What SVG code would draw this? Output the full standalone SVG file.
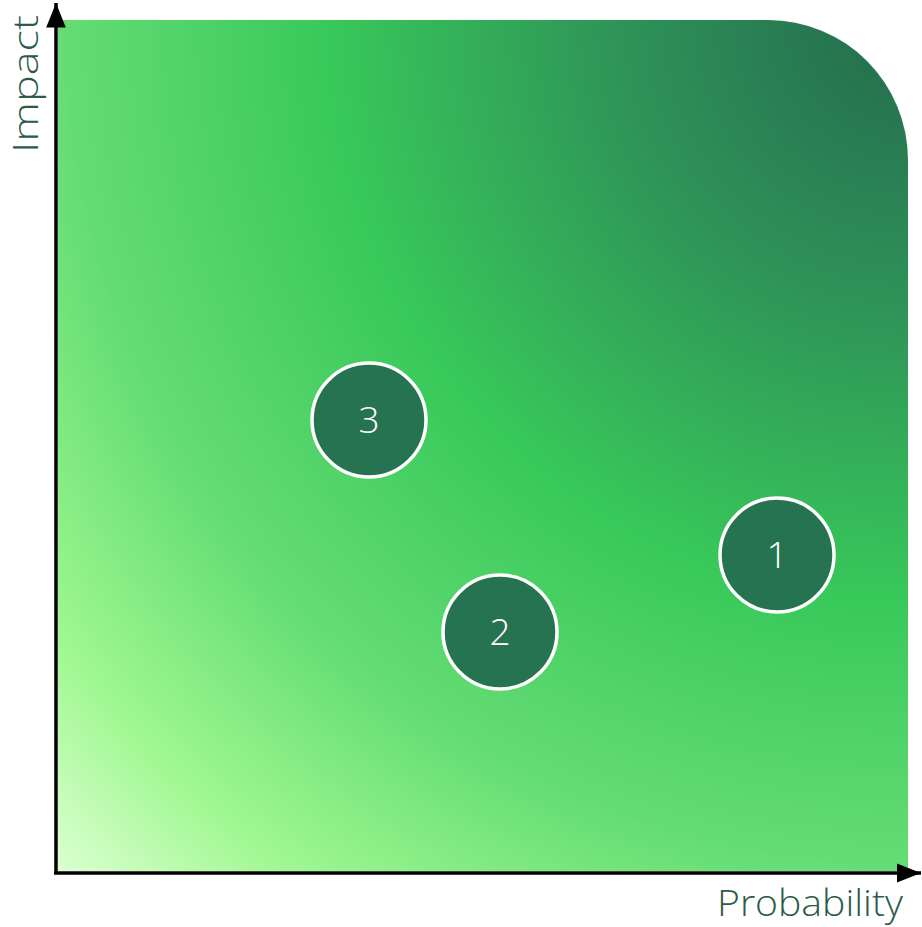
<svg xmlns="http://www.w3.org/2000/svg" width="922" height="927" viewBox="0 0 922 927">
<style>
.lbl{font-family:"Open Sans","Liberation Sans",sans-serif;font-weight:300;font-size:37px;fill:#2b5a47}
.node circle{fill:#267352;stroke:#ffffff;stroke-width:3.5}
.node text{font-family:"Open Sans","Liberation Sans",sans-serif;font-weight:300;font-size:37px;fill:#ffffff;text-anchor:middle}
.axis{stroke:#000;stroke-width:3.5;fill:none}
</style>
<defs>
<radialGradient id="bg" gradientUnits="userSpaceOnUse" cx="908" cy="20" r="1202">
<stop offset="0" stop-color="#236a4e"/>
<stop offset="0.25" stop-color="#2f9558"/>
<stop offset="0.48" stop-color="#38c85a"/>
<stop offset="0.7" stop-color="#64dc74"/>
<stop offset="0.87" stop-color="#9ef790"/>
<stop offset="1" stop-color="#dcffd0"/>
</radialGradient>
<marker id="ah" viewBox="0 0 10 10" refX="10" refY="5" markerWidth="7" markerHeight="5.6" markerUnits="strokeWidth" orient="auto" preserveAspectRatio="none">
<path d="M0,0 L10,5 L0,10 z" fill="#000"/>
</marker>
</defs>
<g id="background">
<path d="M58,20 H768 A140,140 0 0 1 908,160 V871 H58 Z" fill="url(#bg)"/>
</g>
<g id="connectors">
<line class="axis" x1="56" y1="873" x2="56" y2="3" marker-end="url(#ah)"/>
<line class="axis" x1="54" y1="873" x2="921" y2="873" marker-end="url(#ah)"/>
</g>
<g id="label-impact"><text class="lbl" style="font-size:34px" transform="translate(38,153) rotate(-90)" textLength="138" lengthAdjust="spacingAndGlyphs">Impact</text></g>
<g id="label-probability"><text class="lbl" x="717" y="916" textLength="186" lengthAdjust="spacingAndGlyphs">Probability</text></g>
<g id="node-3" class="node"><circle cx="369" cy="420" r="57"/><text x="369" y="433">3</text></g>
<g id="node-2" class="node"><circle cx="500" cy="632" r="57"/><text x="500" y="645">2</text></g>
<g id="node-1" class="node"><circle cx="777" cy="555" r="57"/><text x="777" y="568">1</text></g>
</svg>
